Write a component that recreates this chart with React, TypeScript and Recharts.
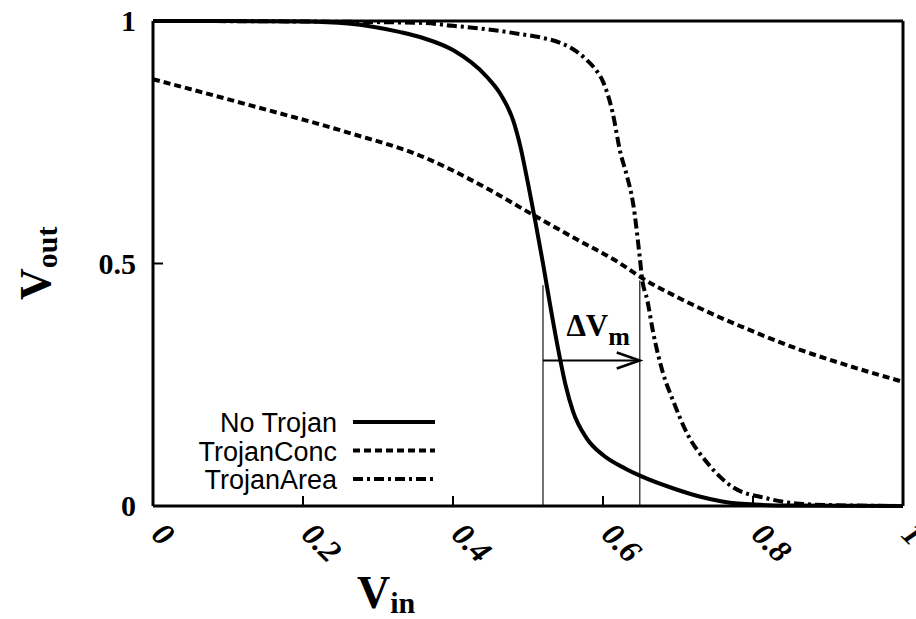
import React from 'react';
import { LineChart, Line, XAxis, YAxis, ReferenceLine, Legend } from 'recharts';

// No Trojan (solid)
const noTrojanX = [0, 0.1, 0.2, 0.26, 0.33, 0.36, 0.4, 0.445, 0.463, 0.48, 0.49, 0.5, 0.51, 0.52, 0.53, 0.54, 0.55, 0.56, 0.578, 0.6, 0.63, 0.65, 0.7, 0.73, 0.78, 0.85, 1];
const noTrojanY = [1, 1, 0.999, 0.995, 0.977, 0.965, 0.94, 0.885, 0.85, 0.796, 0.74, 0.665, 0.585, 0.5, 0.41, 0.325, 0.25, 0.195, 0.14, 0.105, 0.077, 0.062, 0.033, 0.019, 0.005, 0.001, 0];

// TrojanConc (dashed)
const concX = [0, 0.13, 0.26, 0.36, 0.445, 0.507, 0.56, 0.623, 0.652, 0.7, 0.75, 0.8, 0.863, 0.93, 1];
const concY = [0.88, 0.826, 0.77, 0.72, 0.655, 0.6, 0.554, 0.5, 0.47, 0.43, 0.393, 0.36, 0.322, 0.288, 0.256];

// TrojanArea (dash-dot)
const areaX = [0, 0.2, 0.36, 0.4, 0.445, 0.49, 0.52, 0.543, 0.565, 0.578, 0.59, 0.6, 0.613, 0.623, 0.632, 0.64, 0.649, 0.652, 0.659, 0.667, 0.68, 0.693, 0.712, 0.739, 0.773, 0.818, 0.853, 0.9, 1];
const areaY = [1, 0.999, 0.996, 0.99, 0.983, 0.973, 0.965, 0.955, 0.937, 0.92, 0.9, 0.875, 0.81, 0.73, 0.68, 0.625, 0.513, 0.47, 0.425, 0.357, 0.274, 0.219, 0.15, 0.089, 0.039, 0.016, 0.006, 0.002, 0];

const xTicks = [0, 0.2, 0.4, 0.6, 0.8, 1];
const yTicks = [0, 0.5, 1];

// switching points and the ΔVm arrow
const vmX = [0.52, 0.649];
const vmTop = [0.455, 0.465];
const arrowY = 0.3;

const toRows = (xs: number[], ys: number[]) => xs.map((x, i) => ({ x, y: ys[i] }));

const series = [
  { name: 'No Trojan', data: toRows(noTrojanX, noTrojanY), dash: undefined },
  { name: 'TrojanConc', data: toRows(concX, concY), dash: '7 4' },
  { name: 'TrojanArea', data: toRows(areaX, areaY), dash: '10 4 3 4' },
];

const serif = '"Liberation Serif", "DejaVu Serif", serif';
const sans = '"Liberation Sans", Arial, sans-serif';

const XTick = (props: any) => {
  const { x, y, payload } = props;
  return (
    <text
      transform={`translate(${x - 3},${y + 30}) rotate(45)`}
      fontFamily={serif}
      fontWeight="bold"
      fontStyle="italic"
      fontSize={32}
      fill="#000"
    >
      {String(payload.value)}
    </text>
  );
};

const YTick = (props: any) => {
  const { x, y, payload } = props;
  return (
    <text x={x} y={y} dy={10} textAnchor="end" fontFamily={serif} fontWeight="bold" fontSize={30} fill="#000">
      {String(payload.value)}
    </text>
  );
};

const Arrow = (props: any) => {
  const { x1, y1, x2, y2 } = props;
  return (
    <g>
      <line x1={x1} y1={y1} x2={x2} y2={y2} stroke="#000" strokeWidth={2} />
      <polyline
        points={`${x2 - 23},${y2 - 8} ${x2},${y2} ${x2 - 23},${y2 + 8}`}
        fill="none"
        stroke="#000"
        strokeWidth={2.5}
      />
      <text x={(x1 + x2) / 2 - 25} y={y1 - 25} fontFamily={serif} fontWeight="bold" fontSize={31} fill="#000">
        ΔV
        <tspan fontSize={26} dy={9}>m</tspan>
      </text>
    </g>
  );
};

const renderLegend = () => (
  <svg width={450} height={92}>
    {series.map((s, i) => (
      <g key={s.name}>
        <text x={337} y={28 + i * 28.5} textAnchor="end" fontFamily={sans} fontSize={27} fill="#000">
          {s.name}
        </text>
        <line
          x1={353}
          x2={435}
          y1={18 + i * 28.5}
          y2={18 + i * 28.5}
          stroke="#000"
          strokeWidth={4}
          strokeDasharray={s.dash}
        />
      </g>
    ))}
  </svg>
);

const XLabel = (props: any) => {
  const { viewBox } = props;
  return (
    <text x={viewBox.x + 204} y={viewBox.y + 102} fontFamily={serif} fontWeight="bold" fontSize={46} fill="#000">
      V<tspan fontSize={30} dy={5}>in</tspan>
    </text>
  );
};

const YLabel = () => (
  <text transform="translate(50,300) rotate(-90)" fontFamily={serif} fontWeight="bold" fontSize={44} fill="#000">
    V<tspan fontSize={30} dy={7}>out</tspan>
  </text>
);

export default function App() {
  const frame = { stroke: '#000', strokeWidth: 3 };
  const tickLn = { stroke: '#000', strokeWidth: 2 };
  return (
    <div style={{ position: 'absolute', left: 0, top: 0, background: '#fff' }}>
      <LineChart width={916} height={619} margin={{ top: 20, right: 12, left: 93, bottom: 73 }}>
        <XAxis
          type="number"
          dataKey="x"
          domain={[0, 1]}
          ticks={xTicks}
          height={40}
          tickSize={-10}
          tickMargin={10}
          axisLine={frame}
          tickLine={tickLn}
          tick={<XTick />}
          label={<XLabel />}
          allowDuplicatedCategory={false}
        />
        <XAxis xAxisId="top" orientation="top" type="number" domain={[0, 1]} height={1} tick={false} tickLine={false} axisLine={frame} />
        <YAxis
          type="number"
          domain={[0, 1]}
          ticks={yTicks}
          width={60}
          tickSize={-10}
          tickMargin={27}
          axisLine={frame}
          tickLine={tickLn}
          tick={<YTick />}
          label={<YLabel />}
        />
        <YAxis
          yAxisId="r"
          orientation="right"
          type="number"
          domain={[0, 1]}
          ticks={yTicks}
          width={1}
          tickSize={-10}
          axisLine={frame}
          tickLine={tickLn}
          tick={false}
        />
        {vmX.map((x, i) => (
          <ReferenceLine
            key={x}
            segment={[{ x, y: 0 }, { x, y: vmTop[i] }]}
            stroke="#444"
            strokeWidth={1.5}
          />
        ))}
        <ReferenceLine segment={[{ x: vmX[0], y: arrowY }, { x: vmX[1], y: arrowY }]} shape={Arrow} />
        {series.map((s) => (
          <Line
            key={s.name}
            data={s.data}
            dataKey="y"
            name={s.name}
            type="monotone"
            stroke="#000"
            strokeWidth={4}
            strokeDasharray={s.dash}
            dot={false}
            isAnimationActive={false}
          />
        ))}
        <Legend
          layout="vertical"
          align="center"
          verticalAlign="middle"
          content={renderLegend}
          wrapperStyle={{ left: 0, top: 404, width: 450, height: 92 }}
        />
      </LineChart>
    </div>
  );
}
